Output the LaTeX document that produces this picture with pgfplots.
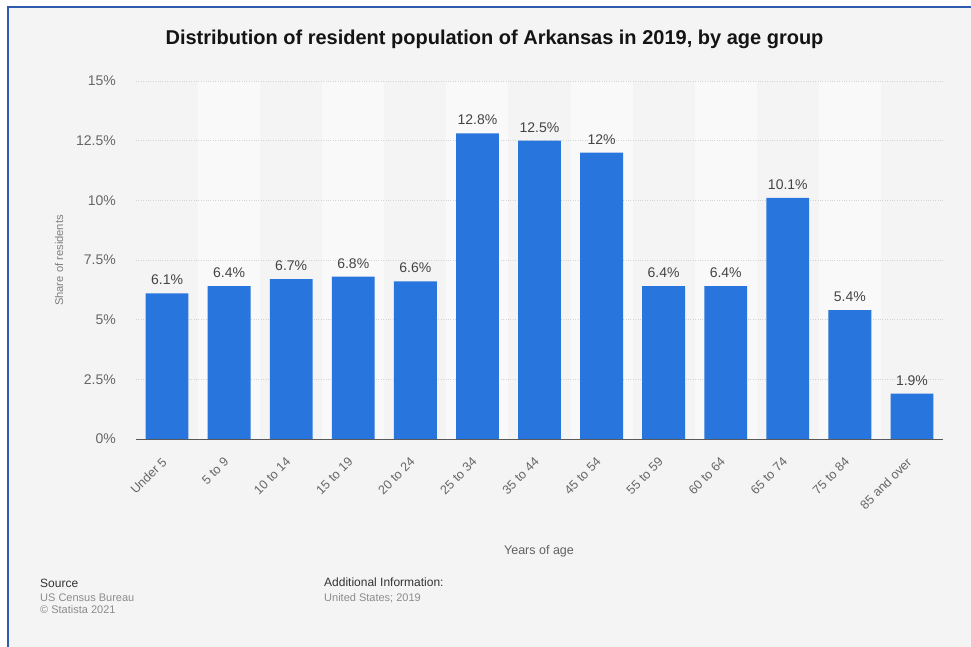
\documentclass[border=0pt]{standalone}
\usepackage{pgfplots}
\pgfplotsset{compat=1.18}
\usepackage{fontspec}
\setmainfont{Liberation Sans}
\definecolor{bg}{HTML}{F4F4F4}
\definecolor{band}{HTML}{F9F9F9}
\definecolor{barc}{HTML}{2876DD}
\definecolor{gridc}{HTML}{D4D4D4}
\definecolor{tickc}{HTML}{666666}
\definecolor{labc}{HTML}{444444}
\definecolor{frame}{HTML}{2F5BAE}
\begin{document}
\begin{tikzpicture}[x=1pt,y=1pt]
\useasboundingbox (0pt,0pt) rectangle (971pt,647pt);
\fill[white] (0pt,0pt) rectangle (971pt,647pt);
\fill[bg] (8pt,0pt) rectangle (971pt,639pt);
\draw[frame,line width=2pt] (7.5pt,0pt) -- (7.5pt,639.5pt) -- (971pt,639.5pt);
% background bands
\begin{axis}[at={(136pt,208pt)}, anchor=south west, scale only axis,
  width=807pt, height=358pt, xmin=-0.5, xmax=12.5, ymin=0, ymax=15, hide axis]
  \fill[band] (axis cs:0.5,0) rectangle (axis cs:1.5,15);
  \fill[band] (axis cs:2.5,0) rectangle (axis cs:3.5,15);
  \fill[band] (axis cs:4.5,0) rectangle (axis cs:5.5,15);
  \fill[band] (axis cs:6.5,0) rectangle (axis cs:7.5,15);
  \fill[band] (axis cs:8.5,0) rectangle (axis cs:9.5,15);
  \fill[band] (axis cs:10.5,0) rectangle (axis cs:11.5,15);
\end{axis}
\begin{axis}[at={(136pt,208pt)}, anchor=south west, scale only axis,
  width=807pt, height=358pt, xmin=-0.5, xmax=12.5, ymin=0, ymax=15,
  /pgf/number format/assume math mode=true,
  ybar, bar width=0.69, clip=false,
  axis x line*=bottom, axis y line*=left,
  y axis line style={draw=none},
  x axis line style={draw=black!65, line width=0.9pt},
  major tick length=0pt,
  ytick={0,2.5,5,7.5,10,12.5,15},
  yticklabel={\pgfmathprintnumber{\tick}\%},
  yticklabel style={font=\fontsize{14}{14}\selectfont, text=tickc, anchor=east, inner sep=0pt, xshift=-20pt},
  ymajorgrids, grid style={gridc, dotted, line width=0.7pt},
  xtick={0,1,2,3,4,5,6,7,8,9,10,11,12},
  xticklabels={Under 5,5 to 9,10 to 14,15 to 19,20 to 24,25 to 34,35 to 44,45 to 54,55 to 59,60 to 64,65 to 74,75 to 84,85 and over},
  xticklabel style={font=\fontsize{12.6}{13}\selectfont, text=tickc, inner sep=0pt, xshift=-6pt, yshift=-17.5pt, rotate=45, anchor=north east},
  nodes near coords={\pgfmathprintnumber[fixed,precision=1]{\pgfplotspointmeta}\%},
  every node near coord/.append style={font=\fontsize{14}{14}\selectfont, text=labc, anchor=base, inner sep=0pt, yshift=8.5pt},
]
\addplot[fill=barc, draw=none] coordinates {
  (0,6.1) (1,6.4) (2,6.7) (3,6.8) (4,6.6) (5,12.8) (6,12.5) (7,12.0) (8,6.4) (9,6.4) (10,10.1) (11,5.4) (12,1.9)
};
\end{axis}
\node[anchor=base, font=\fontsize{20}{24}\selectfont\bfseries, text=black!92] at (494.5pt,602pt) {Distribution of resident population of Arkansas in 2019, by age group};
\node[anchor=center, rotate=90, font=\fontsize{11.2}{12}\selectfont, text=black!50] at (59pt,386.5pt) {Share of residents};
\node[anchor=base, font=\fontsize{12.5}{14}\selectfont, text=black!62] at (539pt,92pt) {Years of age};
\node[anchor=base west, inner sep=0pt, font=\fontsize{12}{14}\selectfont, text=black!80] at (40pt,59pt) {Source};
\node[anchor=base west, inner sep=0pt, font=\fontsize{11}{13}\selectfont, text=black!45] at (40pt,45.3pt) {US Census Bureau};
\node[anchor=base west, inner sep=0pt, font=\fontsize{11}{13}\selectfont, text=black!45] at (40pt,33pt) {© Statista 2021};
\node[anchor=base west, inner sep=0pt, font=\fontsize{12}{14}\selectfont, text=black!80] at (324pt,60pt) {Additional Information:};
\node[anchor=base west, inner sep=0pt, font=\fontsize{11}{13}\selectfont, text=black!45] at (324pt,45.3pt) {United States; 2019};
\end{tikzpicture}
\end{document}
